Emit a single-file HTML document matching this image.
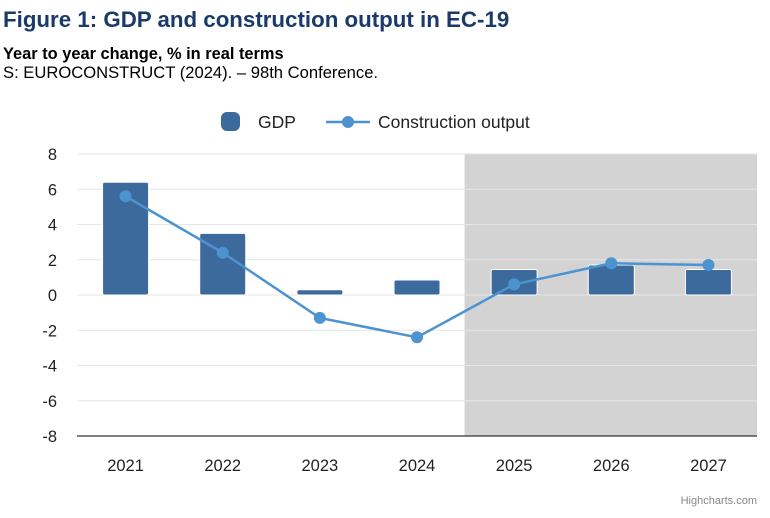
<!DOCTYPE html>
<html><head><meta charset="utf-8"><style>
body{margin:0;background:#fff;width:770px;height:513px;overflow:hidden;font-family:"Liberation Sans",Arial,sans-serif}
</style></head><body>
<svg id="c" width="770" height="513" font-family="Liberation Sans, Arial, sans-serif">
<text x="3" y="27" font-size="22.3" font-weight="bold" fill="#1a3a6a">Figure 1: GDP and construction output in EC-19</text>
<text x="3" y="59" font-size="16.4" font-weight="bold" fill="#000">Year to year change, % in real terms</text>
<text x="3" y="78" font-size="16.6" fill="#000">S: EUROCONSTRUCT (2024). – 98th Conference.</text>
<g>
<g><rect x="221" y="112" width="19" height="19" rx="6" fill="#3d6a9c"/><text x="258" y="128" font-size="17.5" fill="#222">GDP</text></g>
<g><line x1="326" y1="122" x2="370" y2="122" stroke="#4c93d0" stroke-width="2.5"/><circle cx="348" cy="122" r="6" fill="#4c93d0"/><text x="378" y="128" font-size="17.5" fill="#222">Construction output</text></g>
</g>
<g id="plot"></g>
<text x="757" y="504" font-size="11" text-anchor="end" fill="#888">Highcharts.com</text>
</svg>
<script>
const categories=["2021","2022","2023","2024","2025","2026","2027"];
const gdp=[6.4,3.5,0.3,0.85,1.45,1.7,1.45];
const construction=[5.6,2.4,-1.3,-2.4,0.6,1.8,1.7];
const yTicks=[8,6,4,2,0,-2,-4,-6,-8];
const forecastStart=4;
const NS="http://www.w3.org/2000/svg";
const g=document.getElementById('plot');
const L=77,R=757,T=154,B=436,yMin=-8,yMax=8;
const bw=(R-L)/categories.length;
const y=v=>B-(v-yMin)/(yMax-yMin)*(B-T);
const x=i=>L+bw*(i+0.5);
function mk(t,a){const e=document.createElementNS(NS,t);for(const k in a)e.setAttribute(k,a[k]);g.appendChild(e);return e;}
const sh=mk('rect',{x:L+bw*forecastStart-1,y:T,width:R-(L+bw*forecastStart-1),height:B-T,fill:'#d3d3d3'});


yTicks.forEach(t=>{
 const ln=mk('line',{x1:L,x2:R,y1:y(t),y2:y(t),stroke:t===yMin?'#333':'#e6e6e6','stroke-width':t===yMin?1.2:1});
 
 
 const tx=mk('text',{x:57,y:y(t)+6,'font-size':16.5,'text-anchor':'end',fill:'#222'});tx.textContent=t;
 
 
});
categories.forEach((c,i)=>{
 const tx=mk('text',{x:x(i),y:471,'font-size':16.5,'text-anchor':'middle',fill:'#222'});tx.textContent=c;
 
 
 const v=gdp[i];const top=Math.min(y(v),y(0));const h=Math.abs(y(v)-y(0));
 const b=mk('rect',{x:x(i)-23,y:top,width:46,height:h,rx:2,fill:'#3d6a9c',stroke:'#fff','stroke-width':1});
 
 
});
const pl=mk('polyline',{points:construction.map((v,i)=>x(i)+','+y(v)).join(' '),fill:'none',stroke:'#4c93d0','stroke-width':2.5});


construction.forEach((v,i)=>{
 const p=mk('circle',{cx:x(i),cy:y(v),r:6,fill:'#4c93d0'});
 
 
});
</script>
</body></html>
